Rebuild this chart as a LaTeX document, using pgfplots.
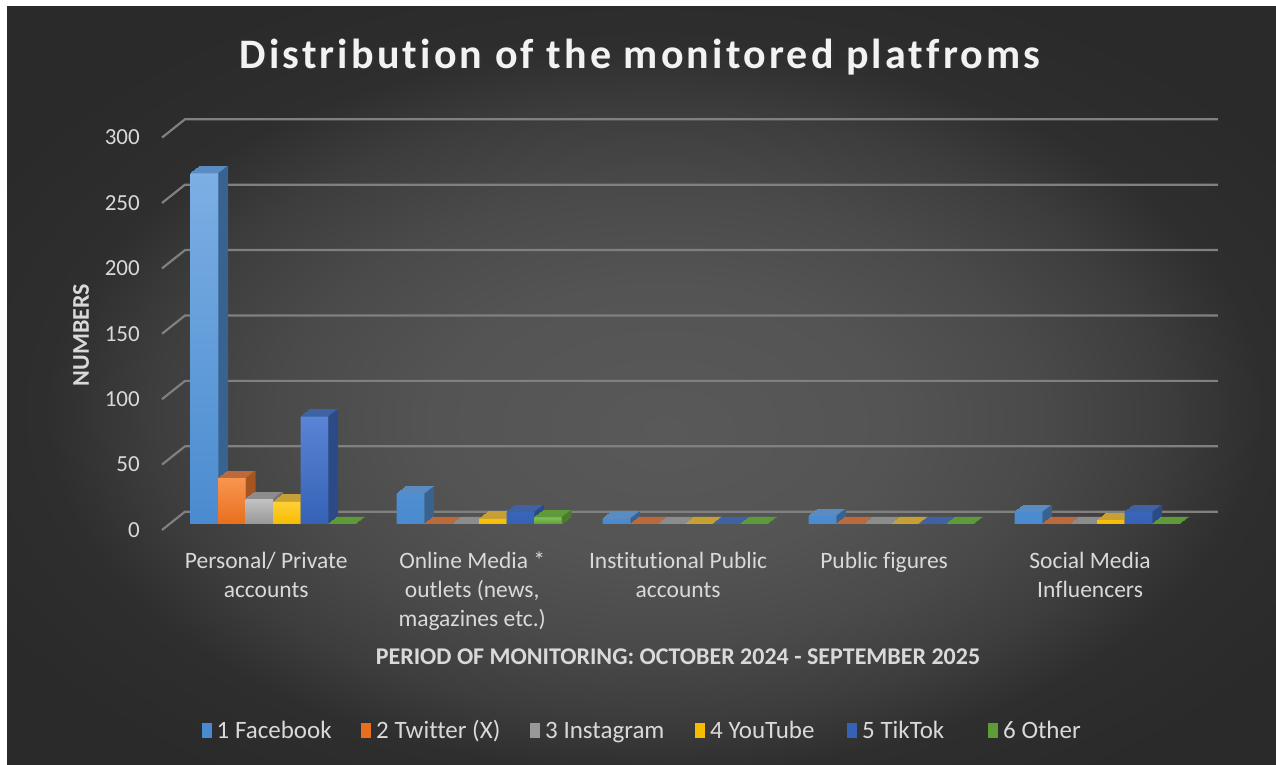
\documentclass[border=0pt]{standalone}
\usepackage{fontspec}
\setmainfont{Carlito}[Ligatures=NoCommon]
\usepackage{pgfplots}
\pgfplotsset{compat=1.18}
\usepackage{pgfplotstable}

\definecolor{bgA}{HTML}{595959}
\definecolor{bgB}{HTML}{545454}
\definecolor{bgC}{HTML}{4A4A4A}
\definecolor{bgD}{HTML}{3D3D3D}
\definecolor{bgE}{HTML}{2E2E2E}
\definecolor{bgF}{HTML}{2A2A2A}
\pgfdeclareradialshading{bgshade}{\pgfpoint{1bp}{-3bp}}{color(0bp)=(bgA); color(9bp)=(bgB); color(15bp)=(bgC); color(20bp)=(bgD); color(24bp)=(bgE); color(30bp)=(bgF); color(50bp)=(bgF)}

\definecolor{gridc}{HTML}{808080}
\definecolor{txt}{HTML}{D9D9D9}

% Facebook
\definecolor{fbT}{HTML}{7CAFE4}\definecolor{fbB}{HTML}{4A8BCF}\definecolor{fbTop}{HTML}{5A8CC2}\definecolor{fbS}{HTML}{38628F}
% Twitter
\definecolor{twT}{HTML}{F8954F}\definecolor{twB}{HTML}{E86F1E}\definecolor{twTop}{HTML}{BC6A3C}\definecolor{twS}{HTML}{A55520}
% Instagram
\definecolor{igT}{HTML}{C2C2C2}\definecolor{igB}{HTML}{989898}\definecolor{igTop}{HTML}{8C8C8C}\definecolor{igS}{HTML}{737373}
% YouTube
\definecolor{ytT}{HTML}{FFD034}\definecolor{ytB}{HTML}{F6BC00}\definecolor{ytTop}{HTML}{C6A035}\definecolor{ytS}{HTML}{AD8700}
% TikTok
\definecolor{ttT}{HTML}{5A84D6}\definecolor{ttB}{HTML}{3562B5}\definecolor{ttTop}{HTML}{3F62A4}\definecolor{ttS}{HTML}{2C4A86}
% Other
\definecolor{otT}{HTML}{80C157}\definecolor{otB}{HTML}{5E9C38}\definecolor{otTop}{HTML}{5E9A3A}\definecolor{otS}{HTML}{4A7A2D}

\pgfplotstableread{
x fb tw ig yt tt ot
0 268 35 19 17 82 0
1 23 0 0 4 9 5
2 4 0 0 0 0 0
3 6 0 0 0 0 0
4 9 0 0 3 9 0
}\data

% #1 column, #2 bar shift, #3 front top colour, #4 front bottom colour, #5 top face colour, #6 side face colour
\newcommand{\tdbar}[6]{%
 \pgfplotsinvokeforeach{1,2,3,4,5,6,7,8,9}{%
  \addplot[ybar, bar width=27.5pt, bar shift=#2, fill=#5, draw=#5, line width=0.8pt, xshift=##1*1pt, yshift=##1*0.78pt, forget plot] table[x=x,y=#1]{\data};}%
 \pgfplotsinvokeforeach{1,2,3,4,5,6,7,8,9}{%
  \addplot[ybar, bar width=1.6pt, bar shift=#2, fill=#6, draw=none, xshift=13.75pt+##1*1pt, yshift=##1*0.78pt, forget plot] table[x=x,y=#1]{\data};}%
 \addplot[ybar, bar width=27.5pt, bar shift=#2, draw=none, top color=#3, bottom color=#4, forget plot] table[x=x,y=#1]{\data};%
}

\begin{document}
\begin{tikzpicture}[x=1pt,y=1pt]
\useasboundingbox (0,0) rectangle (1276,765);
\fill[white] (0,0) rectangle (1276,765);
\shade[shading=bgshade] (7,0) rectangle (1276,758);

% title with shadow
\node[text=black!80, opacity=0.6, font=\fontsize{42}{50}\selectfont\bfseries\addfontfeatures{LetterSpace=7.5}] at (642,706) {Distribution of the monitored platfroms};
\node[text=white!95!black, font=\fontsize{42}{50}\selectfont\bfseries\addfontfeatures{LetterSpace=7.5}] at (640,708) {Distribution of the monitored platfroms};

\begin{axis}[
  at={(162pt,241pt)}, anchor=south west,
  width=1056pt, height=392.4pt, scale only axis,
  xmin=-0.54, xmax=4.587, ymin=0, ymax=300,
  clip=false,
  axis line style={draw=none},
  major tick length=0pt, tick style={draw=none},
  xtick={0,1,2,3,4},
  xticklabels={{Personal/ Private\\accounts},{Online Media *\\outlets (news,\\magazines etc.)},{Institutional Public\\accounts},{Public figures},{Social Media\\Influencers}},
  xticklabel style={align=center, anchor=north, inner sep=0pt, yshift=-28pt, xshift=-7pt, text=txt, font=\fontsize{23.5}{29}\selectfont},
  ytick={0,50,100,150,200,250,300},
  yticklabel style={anchor=east, inner sep=0pt, xshift=-22pt, yshift=-6pt, text=txt, font=\fontsize{23}{27}\selectfont, /pgf/number format/assume math mode=true},
]
\pgfplotsinvokeforeach{0,50,100,150,200,250,300}{%
  \draw[gridc, line width=2.2pt] ([yshift=-6pt]axis cs:-0.54,#1) -- ([xshift=23pt,yshift=12.3pt]axis cs:-0.54,#1) -- ([yshift=12.3pt]axis cs:4.587,#1);
}
\tdbar{fb}{-68.75pt}{fbT}{fbB}{fbTop}{fbS}
\tdbar{tw}{-41.25pt}{twT}{twB}{twTop}{twS}
\tdbar{ig}{-13.75pt}{igT}{igB}{igTop}{igS}
\tdbar{yt}{13.75pt}{ytT}{ytB}{ytTop}{ytS}
\tdbar{tt}{41.25pt}{ttT}{ttB}{ttTop}{ttS}
\tdbar{ot}{68.75pt}{otT}{otB}{otTop}{otS}
\end{axis}

% axis titles
\node[text=txt, font=\fontsize{24}{28}\selectfont\bfseries] at (678,108) {PERIOD OF MONITORING: OCTOBER 2024 - SEPTEMBER 2025};
\node[text=txt, rotate=90, font=\fontsize{24}{28}\selectfont\bfseries] at (81,430) {NUMBERS};

% legend
\foreach \xx/\cc/\tt in {201.5/fbB/1 Facebook, 361/twB/2 Twitter (X), 530/igB/3 Instagram, 695/ytB/4 YouTube, 847/ttB/5 TikTok, 988/otB/6 Other}{
  \fill[\cc] (\xx,27) rectangle ++(10,15);
  \node[anchor=base west, inner sep=0pt, text=txt, font=\fontsize{25}{30}\selectfont] at (\xx+15,26) {\tt};
}
\end{tikzpicture}
\end{document}
